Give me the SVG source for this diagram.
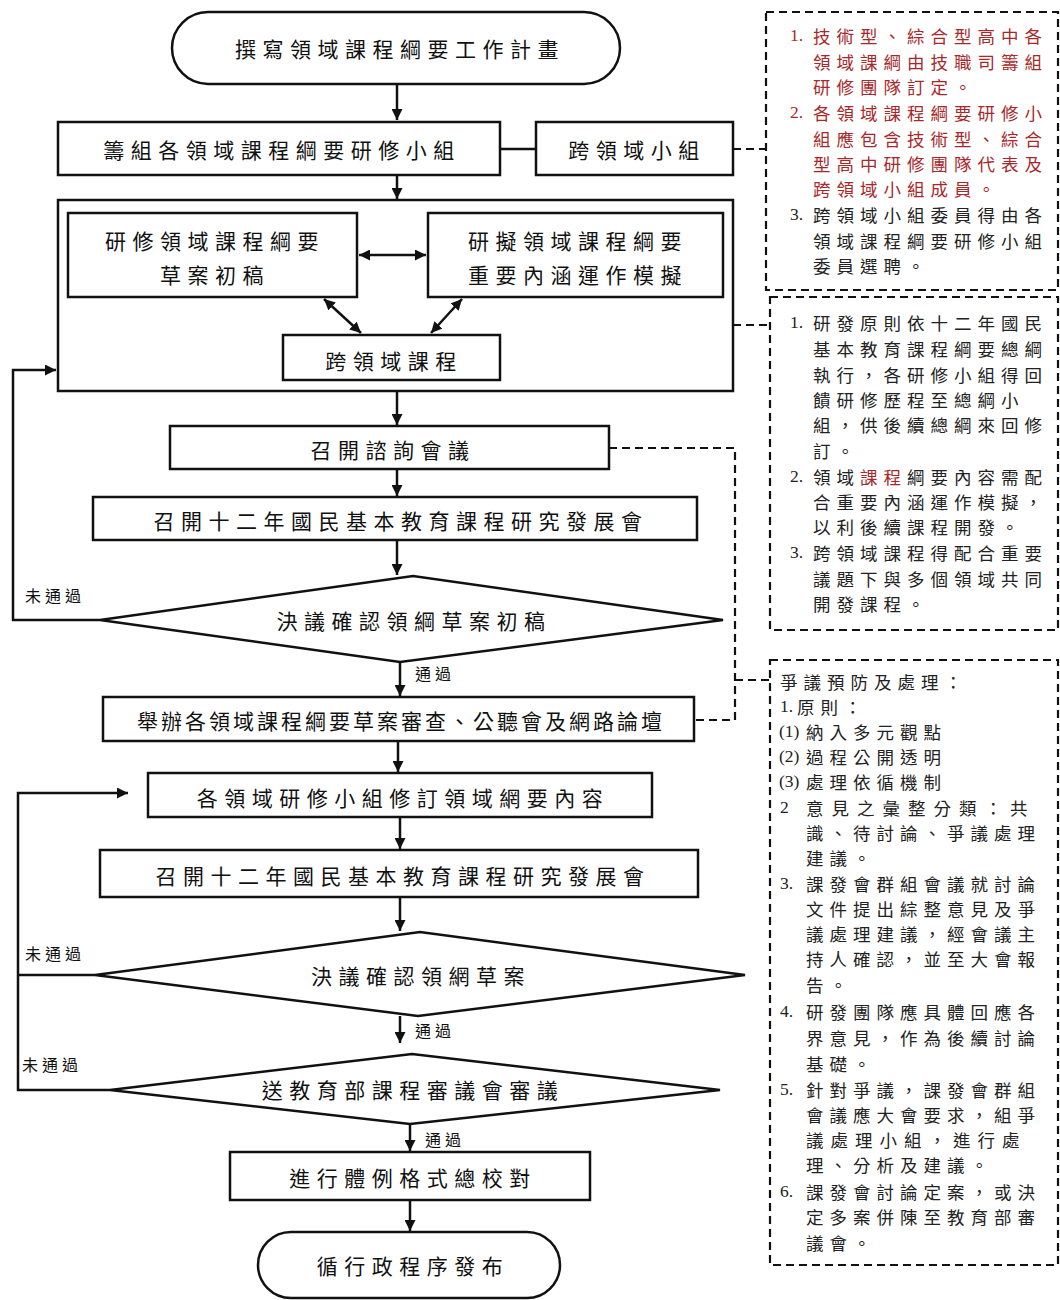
<svg xmlns="http://www.w3.org/2000/svg" width="1060" height="1300" viewBox="0 0 1060 1300">
<style>
.n{fill:#fff;stroke:#111;stroke-width:2.5}
.t{font-family:"Noto Sans CJK TC","Noto Sans CJK SC",sans-serif;font-size:21px;letter-spacing:6.5px;fill:#111;text-anchor:middle;dominant-baseline:central}
.c{stroke:#111;stroke-width:2.5;fill:none}
.d{stroke:#111;stroke-width:2.2;fill:none;stroke-dasharray:8,5}
.lab{font-family:"Noto Sans CJK TC","Noto Sans CJK SC",sans-serif;font-size:16px;letter-spacing:4px;fill:#111;dominant-baseline:central}
.r{font-family:"Noto Sans CJK TC","Noto Sans CJK SC",sans-serif;font-size:17.5px;letter-spacing:6px;fill:#222;dominant-baseline:central}
.red{fill:#a8282a}
.num{font-family:"Liberation Serif",serif;letter-spacing:0}
</style>
<defs>
<marker id="ah" viewBox="0 0 10 10" refX="10" refY="5" markerWidth="4.4" markerHeight="4.4" orient="auto-start-reverse" markerUnits="strokeWidth">
<path d="M0,0 L10,5 L0,10 z" fill="#111"/>
</marker>
</defs>

<g id="start"><rect class="n" x="172" y="12" width="448" height="72" rx="36" ry="36"/><text class="t" x="400" y="48">撰寫領域課程綱要工作計畫</text></g>
<g id="form-groups"><rect class="n" x="58" y="122" width="442" height="53"/><text class="t" x="282" y="149">籌組各領域課程綱要研修小組</text></g>
<g id="cross-group"><rect class="n" x="536" y="122" width="197" height="53"/><text class="t" x="637" y="149">跨領域小組</text></g>
<g id="dev-container"><rect class="n" x="58" y="200" width="675" height="191"/></g>
<g id="draft"><rect class="n" x="68" y="213" width="289" height="84"/><text class="t" x="215" y="240">研修領域課程綱要</text><text class="t" x="215" y="274">草案初稿</text></g>
<g id="simulate"><rect class="n" x="428" y="213" width="295" height="84"/><text class="t" x="578" y="240">研擬領域課程綱要</text><text class="t" x="578" y="274">重要內涵運作模擬</text></g>
<g id="cross-course"><rect class="n" x="283" y="335" width="217" height="45"/><text class="t" x="394" y="360">跨領域課程</text></g>
<g id="consult"><rect class="n" x="170" y="426" width="439" height="43"/><text class="t" x="393" y="449">召開諮詢會議</text></g>
<g id="council1"><rect class="n" x="93" y="497" width="604" height="43"/><text class="t" x="401" y="520">召開十二年國民基本教育課程研究發展會</text></g>
<g id="decide1"><polygon class="n" points="100,620 413,576 723,620 400,662"/><text class="t" x="414" y="620">決議確認領綱草案初稿</text></g>
<g id="hearing"><rect class="n" x="103" y="697" width="591" height="44"/><text class="t" x="401" y="720" style="letter-spacing:3px">舉辦各領域課程綱要草案審查、公聽會及網路論壇</text></g>
<g id="revise"><rect class="n" x="148" y="773" width="504" height="44"/><text class="t" x="403" y="797">各領域研修小組修訂領域網要內容</text></g>
<g id="council2"><rect class="n" x="100" y="850" width="598" height="47"/><text class="t" x="403" y="875">召開十二年國民基本教育課程研究發展會</text></g>
<g id="decide2"><polygon class="n" points="95,975 420,932 745,975 418,1016"/><text class="t" x="421" y="975">決議確認領網草案</text></g>
<g id="moe-review"><polygon class="n" points="110,1090 412,1054 720,1090 410,1124"/><text class="t" x="413" y="1089">送教育部課程審議會審議</text></g>
<g id="proofread"><rect class="n" x="230" y="1152" width="360" height="48"/><text class="t" x="413" y="1177">進行體例格式總校對</text></g>
<g id="end"><rect class="n" x="258" y="1232" width="302" height="66" rx="33" ry="33"/><text class="t" x="413" y="1265">循行政程序發布</text></g>

<g id="note1">
<rect class="d" x="766" y="12" width="292" height="278" fill="#fff"/>
<text class="r red" y="35"><tspan class="num" x="790">1.</tspan><tspan x="813">技術型、綜合型高中各</tspan></text>
<text class="r red" x="813" y="61">領域課綱由技職司籌組</text>
<text class="r red" x="813" y="86">研修團隊訂定。</text>
<text class="r red" y="112"><tspan class="num" x="790">2.</tspan><tspan x="813">各領域課程綱要研修小</tspan></text>
<text class="r red" x="813" y="138">組應包含技術型、綜合</text>
<text class="r red" x="813" y="163">型高中研修團隊代表及</text>
<text class="r red" x="813" y="188">跨領域小組成員。</text>
<text class="r" y="214"><tspan class="num" x="790">3.</tspan><tspan x="813">跨領域小組委員得由各</tspan></text>
<text class="r" x="813" y="240">領域課程綱要研修小組</text>
<text class="r" x="813" y="265">委員選聘。</text>
</g>

<g id="note2">
<rect class="d" x="770" y="297" width="288" height="333" fill="#fff"/>
<text class="r" y="322"><tspan class="num" x="790">1.</tspan><tspan x="813">研發原則依十二年國民</tspan></text>
<text class="r" x="813" y="348">基本教育課程綱要總綱</text>
<text class="r" x="813" y="374">執行，各研修小組得回</text>
<text class="r" x="813" y="399">饋研修歷程至總綱小</text>
<text class="r" x="813" y="424">組，供後續總綱來回修</text>
<text class="r" x="813" y="450">訂。</text>
<text class="r" y="476"><tspan class="num" x="790">2.</tspan><tspan x="813">領域</tspan><tspan class="red">課程</tspan><tspan>綱要內容需配</tspan></text>
<text class="r" x="813" y="501">合重要內涵運作模擬，</text>
<text class="r" x="813" y="526">以利後續課程開發。</text>
<text class="r" y="552"><tspan class="num" x="790">3.</tspan><tspan x="813">跨領域課程得配合重要</tspan></text>
<text class="r" x="813" y="578">議題下與多個領域共同</text>
<text class="r" x="813" y="603">開發課程。</text>
</g>

<g id="note3">
<rect class="d" x="770" y="660" width="288" height="605" fill="#fff"/>
<text class="r" x="780" y="681">爭議預防及處理：</text>
<text class="r" y="706"><tspan class="num" x="780">1.</tspan><tspan x="797">原則：</tspan></text>
<text class="r" y="731"><tspan class="num" x="779">(1)</tspan><tspan x="806">納入多元觀點</tspan></text>
<text class="r" y="756"><tspan class="num" x="779">(2)</tspan><tspan x="806">過程公開透明</tspan></text>
<text class="r" y="781"><tspan class="num" x="779">(3)</tspan><tspan x="806">處理依循機制</tspan></text>
<text class="r" y="807"><tspan class="num" x="780">2</tspan><tspan x="806" style="letter-spacing:8px">意見之彙整分類：共</tspan></text>
<text class="r" x="806" y="832">識、待討論、爭議處理</text>
<text class="r" x="806" y="857">建議。</text>
<text class="r" y="883"><tspan class="num" x="780">3.</tspan><tspan x="806">課發會群組會議就討論</tspan></text>
<text class="r" x="806" y="908">文件提出綜整意見及爭</text>
<text class="r" x="806" y="933">議處理建議，經會議主</text>
<text class="r" x="806" y="958">持人確認，並至大會報</text>
<text class="r" x="806" y="984">告。</text>
<text class="r" y="1011"><tspan class="num" x="780">4.</tspan><tspan x="806">研發團隊應具體回應各</tspan></text>
<text class="r" x="806" y="1037">界意見，作為後續討論</text>
<text class="r" x="806" y="1063">基礎。</text>
<text class="r" y="1089"><tspan class="num" x="780">5.</tspan><tspan x="806">針對爭議，課發會群組</tspan></text>
<text class="r" x="806" y="1114">會議應大會要求，組爭</text>
<text class="r" x="806" y="1139" style="letter-spacing:7px">議處理小組，進行處</text>
<text class="r" x="806" y="1164">理、分析及建議。</text>
<text class="r" y="1191"><tspan class="num" x="780">6.</tspan><tspan x="806">課發會討論定案，或決</tspan></text>
<text class="r" x="806" y="1216">定多案併陳至教育部審</text>
<text class="r" x="806" y="1242">議會。</text>
</g>

<g id="connectors">
<line class="c" x1="397" y1="84" x2="397" y2="120" marker-end="url(#ah)"/>
<line class="c" x1="500" y1="149" x2="536" y2="149"/>
<line class="d" x1="733" y1="149" x2="766" y2="149"/>
<line class="c" x1="397" y1="175" x2="397" y2="199" marker-end="url(#ah)"/>
<line class="c" x1="359" y1="255" x2="426" y2="255" marker-start="url(#ah)" marker-end="url(#ah)"/>
<line class="c" x1="324" y1="299" x2="361" y2="333" marker-start="url(#ah)" marker-end="url(#ah)"/>
<line class="c" x1="462" y1="299" x2="431" y2="333" marker-start="url(#ah)" marker-end="url(#ah)"/>
<line class="d" x1="733" y1="325" x2="770" y2="325"/>
<line class="c" x1="397" y1="391" x2="397" y2="425" marker-end="url(#ah)"/>
<line class="c" x1="397" y1="469" x2="397" y2="496" marker-end="url(#ah)"/>
<line class="c" x1="397" y1="540" x2="397" y2="575" marker-end="url(#ah)"/>
<polyline class="c" points="100,620 13,620 13,370 56,370" marker-end="url(#ah)"/>
<line class="c" x1="400" y1="662" x2="400" y2="696" marker-end="url(#ah)"/>
<polyline class="d" points="609,448 735,448 735,720 694,720"/>
<line class="d" x1="735" y1="680" x2="770" y2="680"/>
<line class="c" x1="398" y1="741" x2="398" y2="772" marker-end="url(#ah)"/>
<line class="c" x1="400" y1="817" x2="400" y2="849" marker-end="url(#ah)"/>
<polyline class="c" points="95,975 18,975"/>
<polyline class="c" points="110,1090 18,1090 18,793 128,793" marker-end="url(#ah)"/>
<line class="c" x1="400" y1="897" x2="400" y2="931" marker-end="url(#ah)"/>
<line class="c" x1="400" y1="1016" x2="400" y2="1043" marker-end="url(#ah)"/>
<line class="c" x1="410" y1="1124" x2="410" y2="1151" marker-end="url(#ah)"/>
<line class="c" x1="410" y1="1200" x2="410" y2="1231" marker-end="url(#ah)"/>
<text class="lab" x="25" y="595">未通過</text>
<text class="lab" x="415" y="673">通過</text>
<text class="lab" x="25" y="953">未通過</text>
<text class="lab" x="415" y="1030">通過</text>
<text class="lab" x="22" y="1064">未通過</text>
<text class="lab" x="425" y="1139">通過</text>
</g>
</svg>
